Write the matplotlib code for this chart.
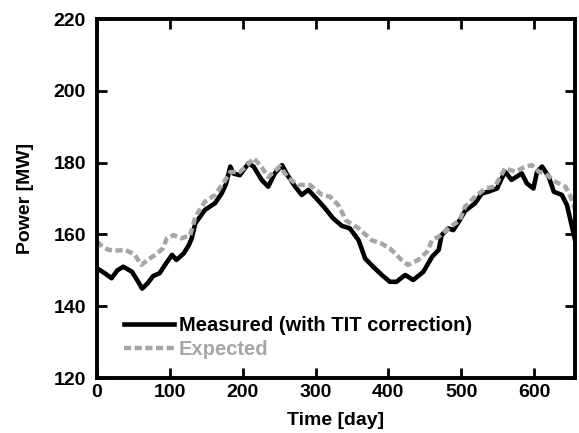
import matplotlib
matplotlib.use('Agg')
import matplotlib.pyplot as plt

plt.rcParams['font.family'] = ['Liberation Sans', 'DejaVu Sans']
plt.rcParams['font.weight'] = 'bold'

# measured power (with TIT correction)
measured_day = [0, 12, 20, 28, 36, 48, 56, 62, 70, 77, 86, 95, 103, 109, 119, 126, 130, 135,
                148, 162, 171, 177, 183, 187, 196, 208, 215, 226, 235, 244, 254, 260, 272, 281,
                290, 299, 313, 324, 336, 347, 359, 368, 379, 391, 402, 411, 423, 434, 448, 460,
                469, 473, 482, 489, 498, 505, 510, 519, 528, 537, 549, 560, 569, 576, 583, 590,
                599, 604, 611, 620, 627, 638, 645, 652, 656]
measured_mw = [150.6, 149.0, 147.8, 150.0, 151.0, 149.6, 147.0, 144.9, 146.5, 148.4, 149.2, 152.0,
               154.3, 152.9, 154.7, 157.0, 158.9, 163.1, 166.8, 168.7, 171.4, 174.0, 178.9, 177.0,
               176.5, 179.8, 178.9, 175.2, 173.3, 177.0, 179.3, 177.0, 173.3, 171.0, 172.4, 170.5,
               167.3, 164.5, 162.4, 161.7, 158.4, 153.3, 151.0, 148.7, 146.8, 146.8, 148.7, 147.3,
               149.6, 153.8, 155.7, 159.8, 161.7, 161.2, 164.0, 166.5, 167.3, 168.7, 171.4, 171.9,
               172.8, 177.5, 175.2, 176.1, 177.0, 174.2, 172.8, 177.5, 178.9, 176.1, 171.9, 171.0,
               168.2, 162.1, 158.5]

# expected power
expected_day = [0, 8, 16, 28, 39, 46, 52, 61, 70, 80, 90, 96, 105, 116, 128, 135, 148, 162, 173,
                183, 196, 205, 215, 224, 235, 243, 251, 263, 276, 292, 309, 320, 331, 338, 341,
                359, 377, 390, 402, 418, 427, 441, 453, 460, 469, 485, 498, 505, 519, 533, 546,
                560, 574, 588, 597, 606, 615, 629, 643, 649, 656]
expected_mw = [158.0, 156.5, 155.7, 155.5, 155.7, 155.0, 154.3, 151.5, 153.0, 154.3, 156.0, 158.9,
               159.8, 158.9, 159.8, 164.9, 169.1, 171.0, 174.2, 177.4, 177.4, 179.0, 181.2, 179.3,
               176.0, 177.5, 178.9, 175.6, 173.8, 173.8, 171.0, 170.5, 168.2, 165.5, 164.0, 161.7,
               158.4, 157.5, 156.1, 152.9, 151.5, 152.9, 155.2, 158.4, 159.4, 162.1, 164.0, 167.7,
               170.5, 172.8, 173.3, 178.4, 177.5, 178.9, 179.3, 177.5, 177.0, 174.7, 173.3, 171.0,
               167.0]

x_ticks = [0, 100, 200, 300, 400, 500, 600]
y_ticks = [120, 140, 160, 180, 200, 220]

fig = plt.figure(figsize=(5.79, 4.33), dpi=100)
ax = fig.add_axes([0.1675, 0.127, 0.8255, 0.829])

ax.plot(measured_day, measured_mw, color='black', lw=3.3, label='Measured (with TIT correction)')
ax.plot(expected_day, expected_mw, color='#a6a6a6', lw=3.2, dashes=(1.6, 0.8), label='Expected')

ax.set_xlim(0, 656)
ax.set_ylim(120, 220)
ax.set_xticks(x_ticks)
ax.set_yticks(y_ticks)
ax.tick_params(direction='in', length=7, width=2, top=True, right=True,
               labelsize=14, pad=4)
ax.tick_params(axis='y', pad=8)
for sp in ax.spines.values():
    sp.set_linewidth(2.8)

ax.set_xlabel('Time [day]', fontsize=14, fontweight='bold', labelpad=8)
ax.set_ylabel('Power [MW]', fontsize=14, fontweight='bold', labelpad=14)

leg = ax.legend(loc='upper left', bbox_to_anchor=(0.056, 0.172), frameon=False,
                fontsize=14.5, handlelength=2.5, handletextpad=0.22, labelspacing=0.22,
                borderpad=0, borderaxespad=0)
for txt, line in zip(leg.get_texts(), leg.get_lines()):
    txt.set_color(line.get_color())

fig.savefig('out.png', dpi=100)
